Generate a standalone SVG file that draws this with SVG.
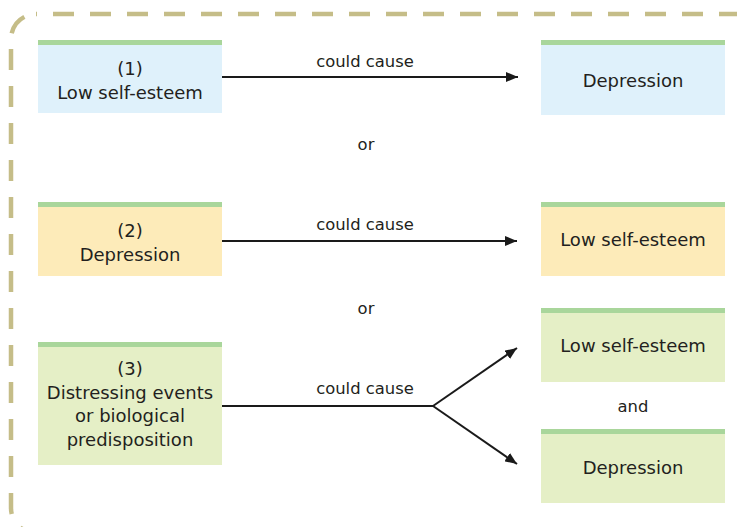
<svg xmlns="http://www.w3.org/2000/svg" width="737" height="527" viewBox="0 0 737 527">
<defs>
<style>
.t{font-family:"DejaVu Sans","Open Sans",sans-serif;font-size:18px;fill:#231f20;text-anchor:middle}
.l{font-family:"DejaVu Sans","Open Sans",sans-serif;font-size:16.4px;fill:#231f20;text-anchor:middle}
.bar{fill:#a9d69b}
.blue{fill:#dff1fb}
.yel{fill:#fdebb9}
.grn{fill:#e5efc6}
.c{stroke:#1a1a1a;stroke-width:2;fill:none}
</style>
<marker id="ah" viewBox="0 0 12 10" refX="12" refY="5" markerWidth="12" markerHeight="10" markerUnits="userSpaceOnUse" orient="auto">
<path d="M0,0 L12,5 L0,10 z" fill="#1a1a1a"/>
</marker>
</defs>
<rect width="737" height="527" fill="#ffffff"/>
<rect id="frame" x="11" y="14" width="749" height="519" rx="25" fill="none" stroke="#c5bd88" stroke-width="4.5" stroke-dasharray="21 16" stroke-dashoffset="20"/>

<g id="connectors">
<line class="c" x1="222" y1="77" x2="518" y2="77" marker-end="url(#ah)"/>
<line class="c" x1="222" y1="241" x2="517" y2="241" marker-end="url(#ah)"/>
<polyline class="c" points="222,406 433,406"/>
<line class="c" x1="433" y1="406" x2="517" y2="348" marker-end="url(#ah)"/>
<line class="c" x1="433" y1="406" x2="517" y2="464" marker-end="url(#ah)"/>
<text class="l" x="365" y="67">could cause</text>
<text class="l" x="365" y="230">could cause</text>
<text class="l" x="365" y="394">could cause</text>
</g>

<text class="l" x="366" y="150">or</text>
<text class="l" x="366" y="314">or</text>
<text class="l" x="633" y="412">and</text>

<g id="n1">
<rect class="blue" x="38" y="40" width="184" height="73"/>
<rect class="bar" x="38" y="40" width="184" height="5"/>
<text class="t" x="130" y="75">(1)<tspan x="130" dy="24">Low self-esteem</tspan></text>
</g>
<g id="n1r">
<rect class="blue" x="541" y="40" width="184" height="75"/>
<rect class="bar" x="541" y="40" width="184" height="5"/>
<text class="t" x="633" y="87">Depression</text>
</g>

<g id="n2">
<rect class="yel" x="38" y="202" width="184" height="74"/>
<rect class="bar" x="38" y="202" width="184" height="5"/>
<text class="t" x="130" y="237">(2)<tspan x="130" dy="24">Depression</tspan></text>
</g>
<g id="n2r">
<rect class="yel" x="541" y="202" width="184" height="74"/>
<rect class="bar" x="541" y="202" width="184" height="5"/>
<text class="t" x="633" y="246">Low self-esteem</text>
</g>

<g id="n3">
<rect class="grn" x="38" y="342" width="184" height="123"/>
<rect class="bar" x="38" y="342" width="184" height="5"/>
<text class="t" x="130" y="375">(3)<tspan x="130" dy="23.5">Distressing events</tspan><tspan x="130" dy="23.5">or biological</tspan><tspan x="130" dy="23.5">predisposition</tspan></text>
</g>
<g id="n3a">
<rect class="grn" x="541" y="308" width="184" height="74"/>
<rect class="bar" x="541" y="308" width="184" height="5"/>
<text class="t" x="633" y="352">Low self-esteem</text>
</g>
<g id="n3b">
<rect class="grn" x="541" y="429" width="184" height="74"/>
<rect class="bar" x="541" y="429" width="184" height="5"/>
<text class="t" x="633" y="474">Depression</text>
</g>
</svg>
